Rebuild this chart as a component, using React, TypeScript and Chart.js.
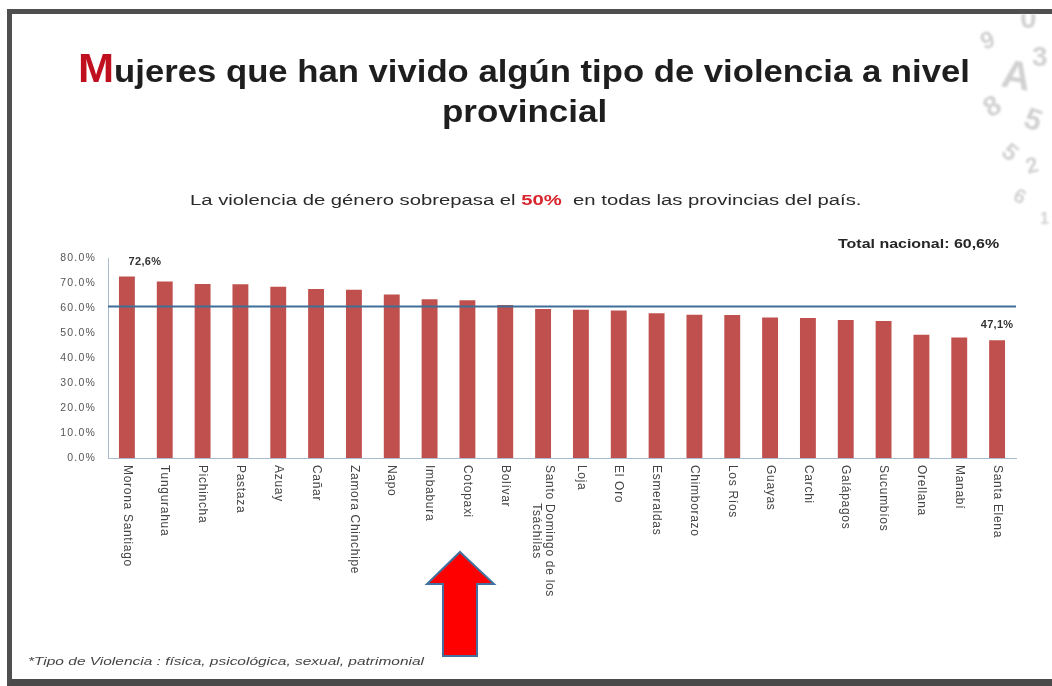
import React, { useEffect, useLayoutEffect, useRef } from "react";
import { Chart, registerables } from "chart.js";

Chart.register(...registerables);

// ---------- data ----------
const categories: string[] = [
  "Morona Santiago",
  "Tungurahua",
  "Pichincha",
  "Pastaza",
  "Azuay",
  "Cañar",
  "Zamora Chinchipe",
  "Napo",
  "Imbabura",
  "Cotopaxi",
  "Bolívar",
  "Santo Domingo de los\nTsáchilas",
  "Loja",
  "El Oro",
  "Esmeraldas",
  "Chimborazo",
  "Los Ríos",
  "Guayas",
  "Carchi",
  "Galápagos",
  "Sucumbíos",
  "Orellana",
  "Manabí",
  "Santa Elena",
];

const values: number[] = [
  72.6, 70.6, 69.6, 69.5, 68.5, 67.6, 67.3, 65.4, 63.5, 63.1, 61.2, 59.6,
  59.3, 59.0, 57.9, 57.3, 57.2, 56.2, 56.0, 55.2, 54.8, 49.3, 48.2, 47.1,
];

const barValueLabels: string[] = [
  "72,6%", "", "", "", "", "", "", "", "", "", "", "",
  "", "", "", "", "", "", "", "", "", "", "", "47,1%",
];

const nationalTotal = 60.6;
const nationalTotalLabel = "Total nacional: 60,6%";

const FONT = "'Liberation Sans', Arial, Helvetica, sans-serif";

// ---------- plugins ----------
const spacingPlugin = {
  id: "spacing",
  beforeDraw(chart: any) {
    (chart.ctx as any).letterSpacing = "1.2px";
  },
  afterDraw(chart: any) {
    (chart.ctx as any).letterSpacing = "0px";
  },
};

const refLinePlugin = {
  id: "refLine",
  afterDatasetsDraw(chart: any, _args: any, opts: any) {
    const { ctx, chartArea, scales } = chart;
    const py = scales.y.getPixelForValue(opts.value);
    ctx.save();
    ctx.strokeStyle = opts.color;
    ctx.lineWidth = opts.width;
    ctx.beginPath();
    ctx.moveTo(chartArea.left, py);
    ctx.lineTo(chartArea.right, py);
    ctx.stroke();
    ctx.restore();
  },
};

const barLabelPlugin = {
  id: "barLabels",
  afterDatasetsDraw(chart: any, _args: any, opts: any) {
    const { ctx } = chart;
    const meta = chart.getDatasetMeta(0);
    ctx.save();
    (ctx as any).letterSpacing = "0.3px";
    ctx.font = `bold 11px ${FONT}`;
    ctx.fillStyle = "#333333";
    ctx.textAlign = "center";
    ctx.textBaseline = "alphabetic";
    opts.labels.forEach((t: string, i: number) => {
      if (!t) return;
      const el = meta.data[i];
      const dx = (opts.dx && opts.dx[i]) || 0;
      ctx.fillText(t, el.x + dx, el.y - 12);
    });
    ctx.restore();
  },
};

const xLabelPlugin = {
  id: "xLabels",
  afterDraw(chart: any, _args: any, opts: any) {
    const { ctx, scales } = chart;
    const xs = scales.x;
    ctx.save();
    (ctx as any).letterSpacing = "0.7px";
    ctx.font = `12px ${FONT}`;
    ctx.fillStyle = "#444444";
    ctx.textBaseline = "middle";
    ctx.textAlign = "left";
    const lh = 13;
    opts.labels.forEach((lab: string, i: number) => {
      const x = xs.getPixelForValue(i);
      const y0 = xs.top + 7;
      const lines = lab.split("\n");
      const widths = lines.map((l) => ctx.measureText(l).width);
      const maxW = Math.max(...widths);
      ctx.save();
      ctx.translate(x, y0);
      ctx.rotate(Math.PI / 2);
      lines.forEach((l, j) => {
        const off = (j - (lines.length - 1) / 2) * lh;
        ctx.fillText(l, (maxW - widths[j]) / 2, off);
      });
      ctx.restore();
    });
    ctx.restore();
  },
};

// ---------- text helper ----------
function FitText(props: {
  left: number;
  top: number;
  width: number;
  style?: React.CSSProperties;
  children: React.ReactNode;
}) {
  const ref = useRef<HTMLDivElement>(null);
  useLayoutEffect(() => {
    const el = ref.current;
    if (!el) return;
    el.style.transform = "none";
    const w = el.offsetWidth;
    if (w > 0) el.style.transform = `scaleX(${props.width / w})`;
  });
  return (
    <div
      ref={ref}
      style={{
        position: "absolute",
        left: props.left,
        top: props.top,
        whiteSpace: "nowrap",
        transformOrigin: "left top",
        lineHeight: 1,
        fontFamily: FONT,
        ...props.style,
      }}
    >
      {props.children}
    </div>
  );
}

export default function App() {
  const canvasRef = useRef<HTMLCanvasElement>(null);

  useEffect(() => {
    if (!canvasRef.current) return;
    Chart.defaults.font.family = FONT;
    const chart = new Chart(canvasRef.current, {
      type: "bar",
      data: {
        labels: categories,
        datasets: [
          {
            data: values,
            backgroundColor: "#C0504D",
            borderWidth: 0,
            barPercentage: 0.42,
            categoryPercentage: 1,
          },
        ],
      },
      options: {
        responsive: false,
        animation: false,
        events: [],
        layout: { padding: { left: 0, right: 36, top: 258, bottom: 0 } },
        plugins: {
          legend: { display: false },
          tooltip: { enabled: false },
          title: { display: false },
          refLine: { value: nationalTotal, color: "#3F6F97", width: 2 },
          barLabels: { labels: barValueLabels, dx: { 0: 18 } },
          xLabels: { labels: categories },
        } as any,
        scales: {
          x: {
            offset: true,
            grid: { display: false, drawTicks: false },
            border: { display: true, color: "#A9BCCF", width: 1 },
            ticks: { display: false },
            afterFit: (s: any) => {
              s.height = 228;
            },
          },
          y: {
            min: 0,
            max: 80,
            grid: { display: false, drawTicks: false },
            border: { display: true, color: "#A9BCCF", width: 1 },
            ticks: {
              stepSize: 10,
              padding: 12,
              color: "#555555",
              font: { size: 10.5, family: FONT },
              callback: (v: any) => Number(v).toFixed(1) + "%",
            },
            afterFit: (s: any) => {
              s.width = 108;
            },
          },
        } as any,
      },
      plugins: [spacingPlugin, refLinePlugin, barLabelPlugin, xLabelPlugin],
    });
    return () => chart.destroy();
  }, []);

  return (
    <div
      style={{
        position: "absolute",
        left: 0,
        top: 0,
        width: 1052,
        height: 686,
        background: "#ffffff",
        overflow: "hidden",
      }}
    >
      {/* frame */}
      <div
        style={{
          position: "absolute",
          left: 7,
          top: 9,
          width: 1052,
          height: 677,
          boxSizing: "border-box",
          borderTop: "5px solid #4f4f4f",
          borderLeft: "5px solid #4f4f4f",
          borderBottom: "7px solid #4a4a4a",
        }}
      />
      {/* decorative numerals (faint background texture) */}
      <svg
        width={100}
        height={230}
        style={{ position: "absolute", left: 960, top: 14, filter: "blur(1.2px)" }}
      >
        <g fill="#9a9a9a" opacity={0.45} fontFamily={FONT} fontWeight="bold">
          <text x={60} y={14} fontSize={30}>0</text>
          <text x={24} y={36} fontSize={24} transform="rotate(-20 24 36)">9</text>
          <text x={40} y={72} fontSize={40} transform="rotate(10 40 72)">A</text>
          <text x={72} y={52} fontSize={28}>3</text>
          <text x={30} y={104} fontSize={28} transform="rotate(-30 30 104)">8</text>
          <text x={62} y={112} fontSize={30} transform="rotate(20 62 112)">5</text>
          <text x={40} y={140} fontSize={24} transform="rotate(40 40 140)">5</text>
          <text x={68} y={160} fontSize={22} transform="rotate(-15 68 160)">2</text>
          <text x={52} y={186} fontSize={20} transform="rotate(25 52 186)">6</text>
          <text x={80} y={210} fontSize={16}>1</text>
        </g>
      </svg>

      <canvas
        ref={canvasRef}
        width={1052}
        height={686}
        style={{ position: "absolute", left: 0, top: 0, width: 1052, height: 686 }}
      />

      {/* title */}
      <FitText
        left={78}
        top={55}
        width={892}
        style={{ fontSize: 32, fontWeight: "bold", color: "#1e1e1e" }}
      >
        <span style={{ color: "#C00F1E", fontSize: 40, lineHeight: "0px" }}>M</span>
        ujeres que han vivido algún tipo de violencia a nivel
      </FitText>
      <FitText
        left={442}
        top={95}
        width={165}
        style={{ fontSize: 32, fontWeight: "bold", color: "#1e1e1e" }}
      >
        provincial
      </FitText>

      {/* subtitle */}
      <FitText
        left={190}
        top={192}
        width={672}
        style={{ fontSize: 15.5, color: "#2a2a2a" }}
      >
        La violencia de género sobrepasa el{" "}
        <span style={{ color: "#D9262C", fontWeight: "bold" }}>50%</span>
        {"\u00a0 "}en todas las provincias del país.
      </FitText>

      {/* national total */}
      <FitText
        left={838}
        top={238}
        width={161}
        style={{ fontSize: 12, fontWeight: "bold", color: "#262626" }}
      >
        {nationalTotalLabel}
      </FitText>

      {/* footnote */}
      <FitText
        left={28}
        top={657}
        width={396}
        style={{ fontSize: 10, fontStyle: "italic", color: "#444444" }}
      >
        *Tipo de Violencia : física, psicológica, sexual, patrimonial
      </FitText>

      {/* arrow */}
      <svg
        width={1052}
        height={686}
        style={{ position: "absolute", left: 0, top: 0, pointerEvents: "none" }}
      >
        <polygon
          points="460,552 494,584 477,584 477,656 443,656 443,584 427,584"
          fill="#FF0000"
          stroke="#41719C"
          strokeWidth={2}
          strokeLinejoin="miter"
        />
      </svg>
    </div>
  );
}
